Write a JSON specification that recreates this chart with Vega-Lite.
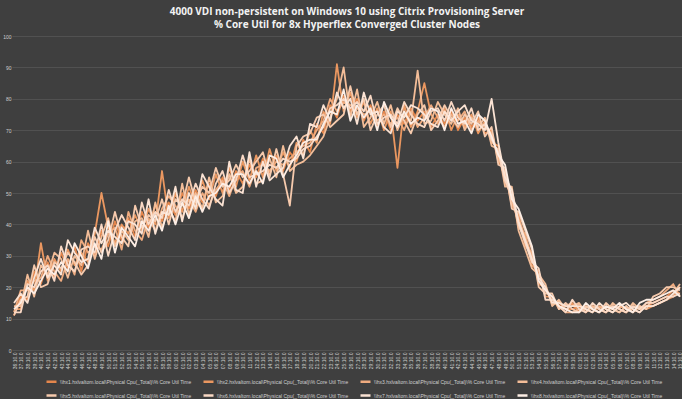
{
  "$schema": "https://vega.github.io/schema/vega-lite/v6.json",
  "width": 670,
  "height": 314,
  "autosize": {"type": "none"},
  "padding": {"left": 12, "top": 36, "right": 0, "bottom": 49},
  "background": "#3f3f3f",
  "title": {
    "text": ["4000 VDI non-persistent on  Windows 10 using Citrix Provisioning Server", "% Core Util for 8x Hyperflex Converged Cluster Nodes"],
    "font": "Open Sans",
    "fontSize": 10,
    "fontWeight": "bold",
    "color": "#f2f2f2",
    "lineHeight": 13,
    "anchor": "middle",
    "offset": 4
  },
  "data": {
    "values": [
      {"t":"36:10.0","1":11,"2":13,"3":12,"4":14,"5":11,"6":12,"7":15,"8":13},
      {"t":"37:10.0","1":17,"2":13,"3":19,"4":14,"5":16,"6":12,"7":18,"8":15},
      {"t":"38:10.0","1":16,"2":22,"3":19,"4":24,"5":17,"6":21,"7":15,"8":20},
      {"t":"39:10.0","1":25,"2":19,"3":22,"4":17,"5":27,"6":20,"7":23,"8":18},
      {"t":"40:10.0","1":21,"2":34,"3":23,"4":27,"5":20,"6":25,"7":29,"8":22},
      {"t":"41:10.0","1":28,"2":22,"3":30,"4":24,"5":21,"6":27,"7":23,"8":26},
      {"t":"42:10.0","1":23,"2":29,"3":25,"4":31,"5":28,"6":22,"7":27,"8":24},
      {"t":"43:10.0","1":31,"2":25,"3":22,"4":29,"5":26,"6":33,"7":24,"8":28},
      {"t":"44:10.0","1":26,"2":32,"3":29,"4":23,"5":31,"6":27,"7":35,"8":25},
      {"t":"45:10.0","1":33,"2":27,"3":24,"4":30,"5":28,"6":25,"7":31,"8":34},
      {"t":"46:10.0","1":25,"2":31,"3":35,"4":27,"5":24,"6":32,"7":28,"8":30},
      {"t":"47:10.0","1":34,"2":28,"3":31,"4":38,"5":27,"6":33,"7":29,"8":26},
      {"t":"48:10.0","1":30,"2":37,"3":33,"4":29,"5":36,"6":31,"7":39,"8":34},
      {"t":"49:10.0","1":38,"2":50,"3":32,"4":36,"5":31,"6":40,"7":34,"8":29},
      {"t":"50:10.0","1":33,"2":39,"3":37,"4":42,"5":35,"6":30,"7":38,"8":41},
      {"t":"51:10.0","1":41,"2":34,"3":39,"4":33,"5":44,"6":38,"7":36,"8":31},
      {"t":"52:10.0","1":35,"2":40,"3":32,"4":38,"5":36,"6":43,"7":34,"8":39},
      {"t":"53:10.0","1":42,"2":37,"3":44,"4":35,"5":33,"6":39,"7":41,"8":36},
      {"t":"54:10.0","1":36,"2":43,"3":38,"4":41,"5":46,"6":35,"7":40,"8":33},
      {"t":"55:10.0","1":44,"2":38,"3":35,"4":42,"5":39,"6":47,"7":37,"8":41},
      {"t":"56:10.0","1":39,"2":45,"3":42,"4":36,"5":43,"6":40,"7":48,"8":38},
      {"t":"57:10.0","1":46,"2":40,"3":38,"4":47,"5":41,"6":44,"7":37,"8":43},
      {"t":"58:10.0","1":41,"2":57,"3":45,"4":39,"5":48,"6":42,"7":44,"8":38},
      {"t":"59:10.0","1":47,"2":42,"3":49,"4":45,"5":40,"6":51,"7":43,"8":46},
      {"t":"00:10.0","1":43,"2":50,"3":46,"4":41,"5":48,"6":44,"7":52,"8":40},
      {"t":"01:10.0","1":50,"2":44,"3":42,"4":53,"5":46,"6":48,"7":41,"8":47},
      {"t":"02:10.0","1":45,"2":52,"3":48,"4":43,"5":55,"6":46,"7":50,"8":42},
      {"t":"03:10.0","1":51,"2":46,"3":44,"4":50,"5":47,"6":53,"7":45,"8":49},
      {"t":"04:10.0","1":47,"2":54,"3":50,"4":45,"5":52,"6":48,"7":56,"8":44},
      {"t":"05:10.0","1":53,"2":48,"3":46,"4":55,"5":50,"6":45,"7":52,"8":49},
      {"t":"06:10.0","1":49,"2":56,"3":51,"4":47,"5":58,"6":53,"7":48,"8":50},
      {"t":"07:10.0","1":55,"2":50,"3":54,"4":49,"5":52,"6":57,"7":46,"8":53},
      {"t":"08:10.0","1":51,"2":58,"3":49,"4":56,"5":54,"6":50,"7":60,"8":52},
      {"t":"09:10.0","1":57,"2":52,"3":55,"4":50,"5":59,"6":54,"7":51,"8":56},
      {"t":"10:10.0","1":53,"2":60,"3":57,"4":52,"5":55,"6":62,"7":50,"8":56},
      {"t":"11:10.0","1":59,"2":54,"3":52,"4":61,"5":57,"6":55,"7":63,"8":53},
      {"t":"12:10.0","1":55,"2":62,"3":58,"4":53,"5":60,"6":56,"7":52,"8":57},
      {"t":"13:10.0","1":61,"2":55,"3":59,"4":54,"5":63,"6":57,"7":60,"8":53},
      {"t":"14:10.0","1":56,"2":64,"3":57,"4":61,"5":55,"6":59,"7":54,"8":62},
      {"t":"15:10.0","1":62,"2":57,"3":60,"4":55,"5":64,"6":58,"7":56,"8":61},
      {"t":"16:10.0","1":57,"2":63,"3":59,"4":65,"5":56,"6":61,"7":58,"8":55},
      {"t":"17:10.0","1":63,"2":58,"3":61,"4":57,"5":46,"6":60,"7":65,"8":59},
      {"t":"18:10.0","1":60,"2":66,"3":63,"4":59,"5":65,"6":61,"7":68,"8":62},
      {"t":"19:10.0","1":67,"2":62,"3":65,"4":60,"5":68,"6":64,"7":61,"8":66},
      {"t":"20:10.0","1":63,"2":70,"3":66,"4":62,"5":69,"6":65,"7":72,"8":67},
      {"t":"21:10.0","1":72,"2":66,"3":70,"4":65,"5":74,"6":68,"7":71,"8":67},
      {"t":"22:10.0","1":69,"2":76,"3":73,"4":68,"5":75,"6":71,"7":78,"8":72},
      {"t":"23:10.0","1":78,"2":72,"3":80,"4":74,"5":71,"6":77,"7":73,"8":76},
      {"t":"24:10.0","1":74,"2":91,"3":76,"4":80,"5":73,"6":78,"7":82,"8":75},
      {"t":"25:10.0","1":81,"2":76,"3":79,"4":90,"5":75,"6":80,"7":77,"8":83},
      {"t":"26:10.0","1":76,"2":82,"3":78,"4":74,"5":84,"6":77,"7":80,"8":73},
      {"t":"27:10.0","1":80,"2":74,"3":77,"4":83,"5":75,"6":79,"7":72,"8":78},
      {"t":"28:10.0","1":73,"2":79,"3":75,"4":71,"5":80,"6":76,"7":82,"8":74},
      {"t":"29:10.0","1":78,"2":72,"3":76,"4":74,"5":70,"6":81,"7":75,"8":77},
      {"t":"30:10.0","1":71,"2":77,"3":73,"4":79,"5":75,"6":72,"7":76,"8":70},
      {"t":"31:10.0","1":76,"2":70,"3":75,"4":72,"5":78,"6":74,"7":71,"8":79},
      {"t":"32:10.0","1":70,"2":76,"3":72,"4":78,"5":71,"6":75,"7":69,"8":74},
      {"t":"33:10.0","1":75,"2":58,"3":74,"4":70,"5":77,"6":72,"7":76,"8":71},
      {"t":"34:10.0","1":72,"2":78,"3":70,"4":75,"5":73,"6":79,"7":74,"8":76},
      {"t":"35:10.0","1":77,"2":71,"3":76,"4":73,"5":69,"6":75,"7":78,"8":72},
      {"t":"36:10.0 ","1":73,"2":76,"3":71,"4":89,"5":75,"6":72,"7":77,"8":74},
      {"t":"37:10.0 ","1":76,"2":85,"3":74,"4":72,"5":78,"6":71,"7":75,"8":73},
      {"t":"38:10.0 ","1":71,"2":75,"3":78,"4":73,"5":70,"6":76,"7":72,"8":77},
      {"t":"39:10.0 ","1":75,"2":72,"3":74,"4":79,"5":73,"6":77,"7":71,"8":76},
      {"t":"40:10.0 ","1":72,"2":77,"3":71,"4":75,"5":78,"6":73,"7":76,"8":70},
      {"t":"41:10.0 ","1":76,"2":70,"3":75,"4":72,"5":74,"6":79,"7":73,"8":77},
      {"t":"42:10.0 ","1":70,"2":75,"3":73,"4":77,"5":71,"6":74,"7":76,"8":72},
      {"t":"43:10.0 ","1":74,"2":71,"3":76,"4":70,"5":75,"6":72,"7":78,"8":73},
      {"t":"44:10.0 ","1":71,"2":75,"3":70,"4":74,"5":72,"6":77,"7":73,"8":69},
      {"t":"45:10.0 ","1":74,"2":69,"3":73,"4":71,"5":76,"6":70,"7":72,"8":75},
      {"t":"46:10.0 ","1":69,"2":73,"3":71,"4":74,"5":68,"6":72,"7":70,"8":73},
      {"t":"47:10.0 ","1":70,"2":66,"3":69,"4":65,"5":71,"6":67,"7":80,"8":68},
      {"t":"48:10.0 ","1":60,"2":65,"3":61,"4":64,"5":59,"6":63,"7":66,"8":62},
      {"t":"49:10.0 ","1":57,"2":53,"3":56,"4":52,"5":58,"6":54,"7":55,"8":59},
      {"t":"50:10.0 ","1":46,"2":50,"3":47,"4":52,"5":45,"6":49,"7":51,"8":48},
      {"t":"51:10.0 ","1":43,"2":39,"3":42,"4":38,"5":44,"6":40,"7":41,"8":45},
      {"t":"52:10.0 ","1":33,"2":37,"3":36,"4":32,"5":38,"6":34,"7":35,"8":39},
      {"t":"53:10.0 ","1":31,"2":27,"3":30,"4":26,"5":32,"6":28,"7":29,"8":33},
      {"t":"54:10.0 ","1":21,"2":25,"3":22,"4":24,"5":20,"6":26,"7":23,"8":22},
      {"t":"55:10.0 ","1":20,"2":17,"3":19,"4":21,"5":18,"6":16,"7":20,"8":19},
      {"t":"56:10.0 ","1":15,"2":17,"3":16,"4":14,"5":18,"6":16,"7":15,"8":17},
      {"t":"57:10.0 ","1":15,"2":13,"3":14,"4":16,"5":13,"6":14,"7":15,"8":14},
      {"t":"58:10.0 ","1":13,"2":14,"3":12,"4":13,"5":15,"6":12,"7":14,"8":13},
      {"t":"59:10.0 ","1":13,"2":15,"3":12,"4":14,"5":13,"6":16,"7":14,"8":12},
      {"t":"00:10.0 ","1":14,"2":12,"3":13,"4":15,"5":12,"6":13,"7":14,"8":12},
      {"t":"01:10.0 ","1":12,"2":14,"3":13,"4":12,"5":14,"6":12,"7":13,"8":15},
      {"t":"02:10.0 ","1":14,"2":13,"3":12,"4":14,"5":13,"6":15,"7":12,"8":13},
      {"t":"03:10.0 ","1":13,"2":12,"3":14,"4":13,"5":12,"6":13,"7":15,"8":12},
      {"t":"04:10.0 ","1":12,"2":14,"3":13,"4":12,"5":15,"6":12,"7":13,"8":14},
      {"t":"05:10.0 ","1":14,"2":13,"3":12,"4":15,"5":13,"6":14,"7":12,"8":13},
      {"t":"06:10.0 ","1":13,"2":12,"3":14,"4":13,"5":12,"6":13,"7":14,"8":15},
      {"t":"07:10.0 ","1":12,"2":14,"3":13,"4":12,"5":14,"6":12,"7":15,"8":13},
      {"t":"08:10.0 ","1":14,"2":12,"3":13,"4":15,"5":12,"6":14,"7":13,"8":12},
      {"t":"09:10.0 ","1":13,"2":14,"3":12,"4":13,"5":14,"6":13,"7":12,"8":15},
      {"t":"10:10.0 ","1":14,"2":13,"3":15,"4":14,"5":13,"6":15,"7":14,"8":16},
      {"t":"11:10.0 ","1":15,"2":14,"3":16,"4":14,"5":17,"6":15,"7":14,"8":16},
      {"t":"12:10.0 ","1":16,"2":15,"3":17,"4":15,"5":18,"6":16,"7":15,"8":17},
      {"t":"13:10.0 ","1":17,"2":16,"3":19,"4":16,"5":20,"6":17,"7":16,"8":18},
      {"t":"14:10.0 ","1":19,"2":17,"3":21,"4":18,"5":20,"6":17,"7":18,"8":19},
      {"t":"15:10.0 ","1":18,"2":20,"3":17,"4":21,"5":19,"6":18,"7":20,"8":17}
    ]
  },
  "transform": [
    {"fold": ["1", "2", "3", "4", "5", "6", "7", "8"], "as": ["series", "value"]}
  ],
  "mark": {"type": "line", "strokeWidth": 1.8, "strokeJoin": "round"},
  "encoding": {
    "x": {
      "field": "t",
      "type": "ordinal",
      "sort": null,
      "scale": {"type": "point", "padding": 0.3},
      "axis": {
        "title": null,
        "labelAngle": -90,
        "labelFontSize": 5,
        "labelColor": "#cfcfcf",
        "labelFont": "Liberation Sans",
        "labelOverlap": false,
        "labelPadding": 2,
        "ticks": false,
        "domain": false,
        "grid": false
      }
    },
    "y": {
      "field": "value",
      "type": "quantitative",
      "scale": {"domain": [0, 100], "nice": false},
      "axis": {
        "title": null,
        "values": [0, 10, 20, 30, 40, 50, 60, 70, 80, 90, 100],
        "labelFontSize": 5,
        "labelColor": "#cfcfcf",
        "labelFont": "Liberation Sans",
        "labelPadding": 1,
        "ticks": false,
        "domain": false,
        "grid": true,
        "gridColor": "#555555",
        "gridWidth": 0.8
      }
    },
    "color": {
      "field": "series",
      "type": "nominal",
      "scale": {
        "domain": ["1", "2", "3", "4", "5", "6", "7", "8"],
        "range": ["#e4864c", "#ea9760", "#efab7f", "#f3bd98", "#f6caad", "#f9d8c4", "#fbe3d4", "#fdeee5"]
      },
      "legend": {
        "title": null,
        "orient": "none",
        "legendX": 33,
        "legendY": 339,
        "direction": "horizontal",
        "columns": 4,
        "symbolType": "stroke",
        "symbolStrokeWidth": 2.5,
        "symbolSize": 100,
        "labelFontSize": 5,
        "labelFont": "Liberation Sans",
        "labelColor": "#d0d0d0",
        "labelLimit": 200,
        "labelOffset": 2,
        "columnPadding": 6,
        "rowPadding": 2,
        "labelExpr": "'\\\\\\\\hx' + datum.label + '.hxlvaltom.local\\\\Physical Cpu(_Total)\\\\% Core Util Time'"
      }
    },
    "order": {"field": "series"}
  },
  "config": {
    "view": {"stroke": null}
  }
}
